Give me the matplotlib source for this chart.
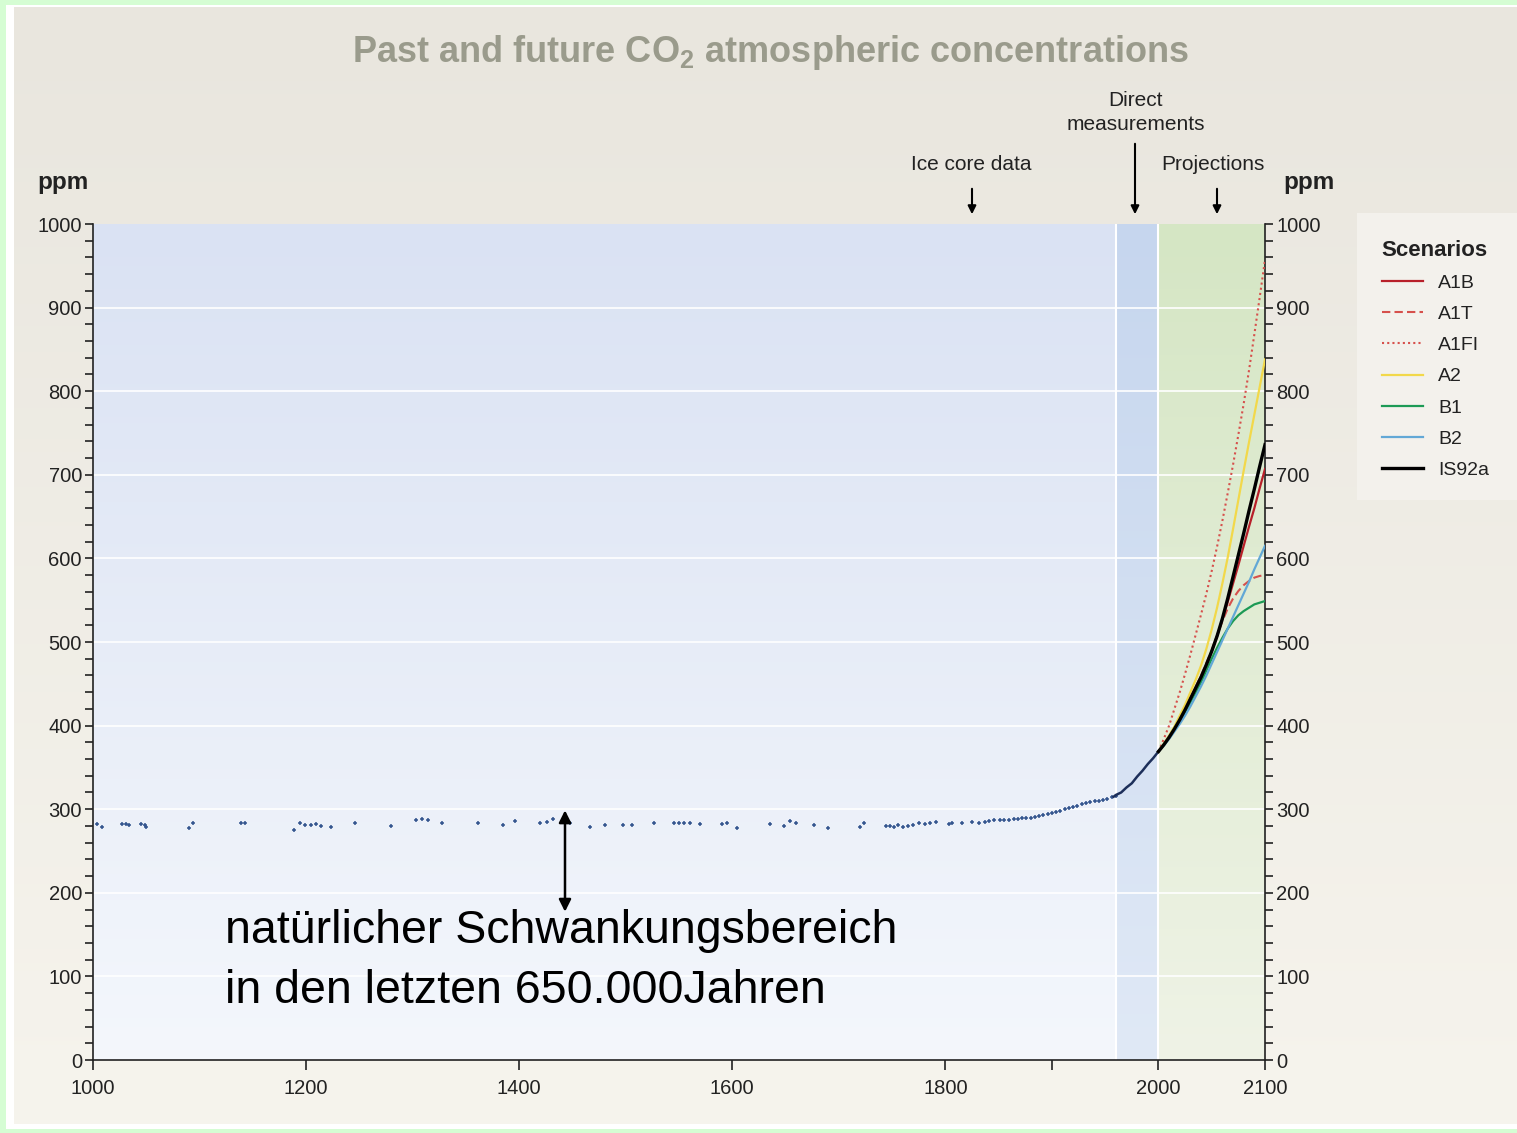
import numpy as np
import matplotlib
matplotlib.use("Agg")
import matplotlib.pyplot as plt
from matplotlib.patches import Rectangle
from matplotlib.colors import LinearSegmentedColormap

plt.rcParams['font.family'] = ['Liberation Sans', 'DejaVu Sans']
plt.rcParams['mathtext.fontset'] = 'custom'
plt.rcParams['mathtext.rm'] = 'Liberation Sans'
plt.rcParams['mathtext.bf'] = 'Liberation Sans:bold'

# ice core data (year, ppm)
ice_years = [1004, 1008, 1027, 1031, 1034, 1045, 1049, 1050, 1090, 1094,
             1139, 1143, 1189, 1194, 1199, 1205, 1209, 1214, 1223, 1246,
             1280, 1303, 1309, 1314, 1328, 1361, 1385, 1396, 1420, 1426,
             1432, 1443, 1448, 1466, 1481, 1497, 1506, 1527, 1545, 1550,
             1555, 1560, 1570, 1590, 1595, 1604, 1635, 1649, 1654, 1660,
             1677, 1690, 1720, 1724, 1744, 1748, 1752, 1756, 1760, 1765,
             1770, 1775, 1781, 1786, 1791, 1803, 1806, 1816, 1825, 1832,
             1837, 1841, 1846, 1851, 1855, 1860, 1864, 1868, 1872, 1876,
             1880, 1884, 1888, 1892, 1896, 1900, 1904, 1908, 1912, 1916,
             1920, 1924, 1928, 1932, 1936, 1940, 1944, 1948, 1952, 1956,
             1960]
ice_ppm = [282, 279, 282, 282, 281, 282, 281, 279, 277, 283,
           283, 284, 275, 284, 281, 281, 282, 280, 279, 283,
           280, 287, 288, 287, 283, 284, 281, 286, 284, 285,
           288, 285, 283, 279, 281, 281, 281, 283, 284, 283,
           284, 283, 282, 282, 283, 278, 282, 280, 286, 283,
           281, 278, 279, 283, 280, 280, 279, 281, 279, 280,
           281, 283, 282, 284, 285, 282, 284, 284, 285, 284,
           285, 286, 287, 287, 287, 287, 288, 288, 289, 289,
           290, 291, 292, 293, 294, 296, 297, 298, 300, 301,
           303, 304, 306, 307, 309, 310, 310, 311, 312, 314,
           316]

# direct measurements
direct_years = [1958, 1960, 1965, 1970, 1975, 1980, 1985, 1990, 1995, 2000]
direct_ppm = [315, 317, 320, 326, 331, 339, 346, 354, 361, 369]

# projections (every 5 years)
proj_years = list(range(2000, 2101, 5))
a1b = [369, 377, 386, 397, 408, 420, 433, 446, 459, 473, 489,
       507, 527, 548, 570, 592, 615, 638, 660, 684, 707]
a1t = [369, 377, 386, 397, 408, 420, 433, 446, 460, 475, 490,
       508, 525, 540, 552, 561, 568, 573, 577, 579, 580]
a1fi = [369, 384, 400, 420, 440, 462, 485, 509, 533, 558, 585,
        614, 645, 678, 712, 748, 785, 825, 868, 912, 957]
a2 = [369, 378, 388, 399, 412, 425, 440, 455, 472, 492, 515,
      541, 570, 601, 635, 670, 705, 739, 772, 805, 838]
b1 = [369, 377, 385, 395, 405, 416, 428, 440, 452, 466, 480,
      493, 505, 516, 525, 532, 537, 541, 545, 547, 549]
b2 = [369, 376, 384, 393, 402, 412, 423, 435, 447, 460, 474,
      488, 502, 516, 530, 544, 558, 572, 587, 601, 615]
is92a = [369, 377, 386, 396, 407, 419, 432, 445, 458, 473, 489,
         507, 528, 552, 578, 604, 630, 657, 683, 710, 736]

W, H = 1517, 1133
fig = plt.figure(figsize=(W / 100, H / 100), dpi=100)
fig.patch.set_facecolor("#d5fdd3")

# page frame
fig.patches.append(Rectangle((6 / W, 4 / H), 1, 1 - 9 / H, transform=fig.transFigure,
                             facecolor="white", edgecolor="none", zorder=-3))
bg = fig.add_axes([14 / W, 9 / H, 1, 1 - 16 / H], zorder=-2)
bg_cmap = LinearSegmentedColormap.from_list("bg", ["#f6f4ed", "#e9e6de"])
bg.imshow(np.linspace(0, 1, 256).reshape(-1, 1), cmap=bg_cmap, aspect="auto",
          origin="lower", extent=[0, 1, 0, 1])
bg.axis("off")

ax = fig.add_axes([93 / W, 1 - 1060 / H, 1172 / W, 836 / H])
ax.set_xlim(1000, 2100)
ax.set_ylim(0, 1000)

grad = np.linspace(0, 1, 256).reshape(-1, 1)
blue = LinearSegmentedColormap.from_list("b", ["#f4f7fc", "#dae2f3"])
blue2 = LinearSegmentedColormap.from_list("b2", ["#e0e9f6", "#c6d6ee"])
green = LinearSegmentedColormap.from_list("g", ["#eff3e6", "#d5e6c4"])
ax.imshow(grad, cmap=blue, aspect="auto", origin="lower", extent=[1000, 1960, 0, 1000], zorder=0)
ax.imshow(grad, cmap=blue2, aspect="auto", origin="lower", extent=[1960, 2000, 0, 1000], zorder=0)
ax.imshow(grad, cmap=green, aspect="auto", origin="lower", extent=[2000, 2100, 0, 1000], zorder=0)
for yv in range(100, 1000, 100):
    ax.axhline(yv, color="white", lw=1.2, zorder=1)
for xv in (1960, 2000):
    ax.axvline(xv, color="white", lw=1.5, zorder=1)

ax.scatter(ice_years, ice_ppm, s=7, marker="+", color="#35568f", zorder=3, linewidths=1.1)
ax.plot(direct_years, direct_ppm, color="#1d2f5a", lw=1.8, zorder=3)

ax.plot(proj_years, a1b, color="#b8202a", lw=1.6, label="A1B", zorder=4)
ax.plot(proj_years, a1t, color="#d6504c", lw=1.5, ls=(0, (4, 2)), label="A1T", zorder=4)
ax.plot(proj_years, a1fi, color="#d6504c", lw=1.5, ls=(0, (1, 1.5)), label="A1FI", zorder=4)
ax.plot(proj_years, a2, color="#f2d84a", lw=1.6, label="A2", zorder=4)
ax.plot(proj_years, b1, color="#1c9a55", lw=1.6, label="B1", zorder=4)
ax.plot(proj_years, b2, color="#62a8d6", lw=1.6, label="B2", zorder=4)
ax.plot(proj_years, is92a, color="black", lw=2.4, label="IS92a", zorder=4)

ax.spines["top"].set_visible(False)
for side in ("left", "right", "bottom"):
    ax.spines[side].set_color("#222222")
    ax.spines[side].set_linewidth(1.2)

ax.set_xticks([1000, 1200, 1400, 1600, 1800, 1900, 2000, 2100])
ax.set_xticklabels(["1000", "1200", "1400", "1600", "1800", "", "2000", "2100"])
ax.set_yticks(range(0, 1001, 100))
ax.set_yticks(range(0, 1001, 20), minor=True)
ax.tick_params(axis="x", direction="out", length=7, width=1.2, labelsize=14.5,
               colors="#222222", pad=7)
ax.tick_params(axis="y", which="both", direction="out", length=6, width=1.2,
               labelsize=14.5, colors="#222222", left=True, right=True,
               labelleft=True, labelright=True, pad=2)

fig.text(37 / W, 1 - 183 / H, "ppm", fontsize=17.5, fontweight="bold", ha="left", va="center", color="#222222")
fig.text(1283 / W, 1 - 183 / H, "ppm", fontsize=17.5, fontweight="bold", ha="left", va="center", color="#222222")

fig.text(770 / W, 1 - 53 / H, r"Past and future CO$_\mathbf{2}$ atmospheric concentrations",
         fontsize=26, fontweight="bold", ha="center", va="center", color="#9a9b8c")

# section labels with arrows
lab = dict(fontsize=15, color="#222222", ha="center", va="center")
fig.text(971 / W, 1 - 165 / H, "Ice core data", **lab)
fig.text(1136 / W, 1 - 101 / H, "Direct", **lab)
fig.text(1136 / W, 1 - 125 / H, "measurements", **lab)
fig.text(1213 / W, 1 - 165 / H, "Projections", **lab)
arrow = dict(arrowstyle="-|>", color="black", lw=1.5, mutation_scale=12)
for x0, y0 in ((972, 186), (1135, 141), (1217, 186)):
    ax.annotate("", xy=(x0 / W, 1 - 217 / H), xytext=(x0 / W, 1 - y0 / H),
                xycoords="figure fraction", textcoords="figure fraction",
                arrowprops=arrow)

# natural range annotation
ax.annotate("", xy=(1443, 302), xytext=(1443, 174),
            arrowprops=dict(arrowstyle="<|-|>", color="black", lw=1.8, mutation_scale=18),
            zorder=6)
ax.text(1124, 140, "natürlicher Schwankungsbereich",
        fontsize=33.5, color="black", ha="left", va="baseline", zorder=6)
ax.text(1124, 68, "in den letzten 650.000Jahren",
        fontsize=33.5, color="black", ha="left", va="baseline", zorder=6)

# legend
fig.patches.append(Rectangle((1357 / W, 1 - 500 / H), 170 / W, 287 / H, transform=fig.transFigure,
                             facecolor="#f3f1ec", edgecolor="none", zorder=-1))
leg = fig.legend(loc="upper left", bbox_to_anchor=(1364 / W, 1 - 222 / H), frameon=False,
                 title="Scenarios", fontsize=14, title_fontsize=16, labelspacing=0.7,
                 handlelength=2.15, handletextpad=0.75, alignment="left")
leg.get_title().set_fontweight("bold")
leg.get_title().set_color("#222222")
for t in leg.get_texts():
    t.set_color("#222222")

fig.savefig("out.png", dpi=100, facecolor=fig.get_facecolor())
